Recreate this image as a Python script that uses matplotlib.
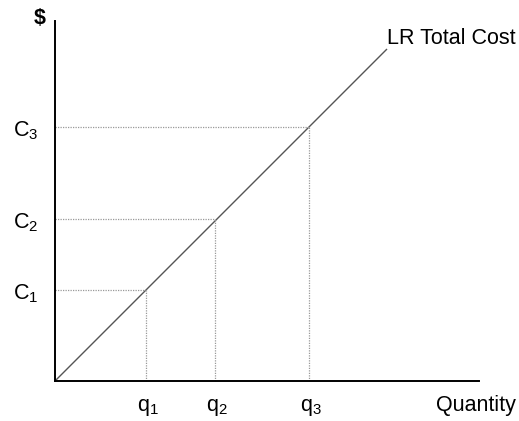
import matplotlib
matplotlib.use("Agg")
import matplotlib.pyplot as plt

plt.rcParams['font.family'] = ['Liberation Sans', 'DejaVu Sans']
plt.rcParams['mathtext.fontset'] = 'custom'
plt.rcParams['mathtext.rm'] = 'Liberation Sans'
plt.rcParams['mathtext.it'] = 'Liberation Sans'

# Data (pixel-like units)
cost_line_q = [0, 332]
cost_line_c = [0, 332]
q_vals = [91, 160, 254]
c_vals = [91, 162, 254]
q_labels = [r'$\mathrm{q}_1$', r'$\mathrm{q}_2$', r'$\mathrm{q}_3$']
c_labels = [r'$\mathrm{C}_1$', r'$\mathrm{C}_2$', r'$\mathrm{C}_3$']

W, H = 519, 421
fig = plt.figure(figsize=(W/100, H/100), dpi=100)
x0, y0 = 55, 381
xmax, ymax = 424, 360
ax = fig.add_axes([x0/W, (H-y0)/H, xmax/W, ymax/H])
ax.set_xlim(0, xmax)
ax.set_ylim(0, ymax)
for s in ['top', 'right']:
    ax.spines[s].set_visible(False)
for s in ['left', 'bottom']:
    ax.spines[s].set_linewidth(1.4)
    ax.spines[s].set_color('black')
ax.set_xticks([])
ax.set_yticks([])

ax.plot(cost_line_q, cost_line_c, color='#555555', lw=1.0, solid_capstyle='butt')
for q, c in zip(q_vals, c_vals):
    ax.plot([0, q], [c, c], color='#999999', lw=0.9, ls=(0, (1, 1)), clip_on=False)
    ax.plot([q, q], [0, c], color='#999999', lw=0.9, ls=(0, (1, 1)), clip_on=False)

fs = 15.5
for q, lab in zip(q_vals, q_labels):
    ax.annotate(lab, xy=(q, 0), xytext=(2, -26), textcoords='offset pixels',
                ha='center', va='center', fontsize=fs)
for c, lab in zip(c_vals, c_labels):
    ax.annotate(lab, xy=(0, c), xytext=(-29, -4), textcoords='offset pixels',
                ha='center', va='center', fontsize=fs)

ax.annotate('Quantity', xy=(xmax, 0), xytext=(-3, -24), textcoords='offset pixels',
            ha='center', va='center', fontsize=fs)
ax.annotate('$', xy=(0, ymax), xytext=(-15, 3), textcoords='offset pixels',
            ha='center', va='center', fontsize=fs, fontweight='bold', annotation_clip=False)
ax.annotate('LR Total Cost', xy=(cost_line_q[1], cost_line_c[1]), xytext=(0, 11),
            textcoords='offset pixels', ha='left', va='center', fontsize=fs,
            annotation_clip=False)

fig.savefig('out.png', dpi=100)
